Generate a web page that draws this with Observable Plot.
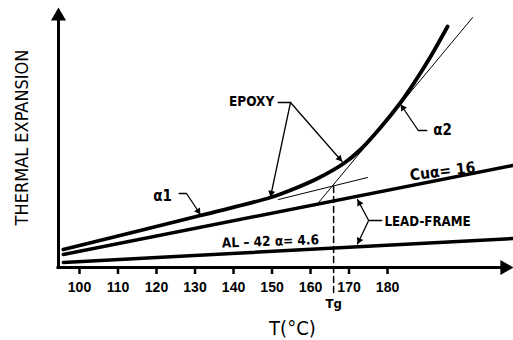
<!DOCTYPE html>
<html><head><meta charset="utf-8">
<script src="https://cdn.jsdelivr.net/npm/d3@7"></script>
<script src="https://cdn.jsdelivr.net/npm/@observablehq/plot@0.6"></script>
<style>body{margin:0;background:#fff}#chart svg{display:block}</style>
</head><body><div id="chart"></div>
<script>
// ---- data (temperature °C, thermal expansion in arbitrary units) ----
const epoxyT = [95.8, 131.4, 149.6, 155.6, 161.8, 168.6, 173, 178.2, 183.4, 187.3, 191.2, 195.6];
const epoxyE = [18, 52, 70, 78.5, 89, 104, 118, 140, 165, 187, 211, 241];
const cuT = [95.8, 212.5];
const cuE = [13, 102];
const alT = [95.8, 212.5];
const alE = [5, 29];
const tangent1T = [151.7, 174.8];
const tangent1E = [68, 90];
const tangent2T = [162.1, 202.1];
const tangent2E = [65, 250];
const tgT = 166;
const tgE = [81, -26];
const xTicks = [100, 110, 120, 130, 140, 150, 160, 170, 180];
const yTitle = "THERMAL EXPANSION";
const xTitle = "T(°C)";
const tgLabel = "Tg";
const labels = ["EPOXY", "α1", "α2", "Cuα= 16", "LEAD-FRAME", "AL – 42 α= 4.6"];

// ---- scales ----
const X = {domain: [94.545, 212.2], range: [58, 511]};
const Y = {domain: [0, 259], range: [267, 8]};
const xs = d3.scaleLinear(X.domain, X.range);
const ys = d3.scaleLinear(Y.domain, Y.range);

const toPts = (T, E) => T.map((t, i) => ({T: t, E: E[i]}));
const epoxy = toPts(epoxyT, epoxyE);
const cu = toPts(cuT, cuE);
const al = toPts(alT, alE);
const tan1 = toPts(tangent1T, tangent1E);
const tan2 = toPts(tangent2T, tangent2E);
const tgLine = tgE.map(e => ({T: tgT, E: e}));

// leaders (annotation anchors in data units)
const leaders = [
  {id: "epoxy-h", pts: [[151.6, 165], [154.8, 165]]},
  {id: "epoxy-a", pts: [[154.8, 165], [149.6, 70.5]], head: true},
  {id: "epoxy-b", pts: [[154.8, 165], [168.2, 106]], head: true},
  {id: "a1", pts: [[125.9, 74], [127.8, 74], [131.4, 53]], head: true},
  {id: "a2", pts: [[190.2, 137], [188.0, 137], [183.4, 163]], head: true},
  {id: "lf-h", pts: [[178.5, 47], [175.1, 47]]},
  {id: "lf-a", pts: [[175.1, 47], [172.2, 68]], head: true},
  {id: "lf-b", pts: [[175.1, 47], [172.2, 23.5]], head: true}
];
const leaderPts = leaders.flatMap(l => l.pts.map(([t, e]) => ({id: l.id, T: t, E: e})));

function headAt(fromT, fromE, tipT, tipE, r) {
  const dx = xs(tipT) - xs(fromT), dy = ys(tipE) - ys(fromE);
  const len = Math.hypot(dx, dy);
  const ux = dx / len, uy = dy / len;
  const hy = Math.sqrt(Math.PI * r * r / (3 * Math.sqrt(3)));
  const cx = xs(tipT) - ux * 2 * hy, cy = ys(tipE) - uy * 2 * hy;
  return {T: xs.invert(cx), E: ys.invert(cy), angle: Math.atan2(dx, -dy) * 180 / Math.PI};
}
const smallR = 2.6;
const leaderHeads = leaders.filter(l => l.head).map(l => {
  const p = l.pts;
  const a = p[p.length - 2], b = p[p.length - 1];
  return headAt(a[0], a[1], b[0], b[1], smallR);
});
const bigR = 5.6;
const axisHeads = [
  headAt(X.domain[0], 0, X.domain[0], 260, bigR),
  headAt(X.domain[0], 0, 212.7, 0, bigR)
];

const narrow = "'DejaVu Sans Condensed','Liberation Sans Narrow','Liberation Sans',Arial,sans-serif";
const regular = "'Liberation Sans',Arial,sans-serif";

const texts = [
  {text: labels[0], T: 144.7, E: 166, size: 13.5, rot: 0},
  {text: labels[1], T: 121.6, E: 71, size: 15, rot: 0},
  {text: labels[2], T: 194.3, E: 137, size: 15, rot: 0},
  {text: labels[3], T: 194.3, E: 96, size: 15.5, rot: -7},
  {text: labels[4], T: 190.4, E: 46, size: 13.2, rot: 0},
  {text: labels[5], T: 149.6, E: 26, size: 13.5, rot: -2}
];

const chart = Plot.plot({
  width: 513,
  height: 340,
  x: {...X, axis: null},
  y: {...Y, axis: null},
  style: {background: "#fff", color: "#000"},
  marks: [
    // axes
    Plot.ruleX([X.domain[0]], {y1: -1.5, y2: axisHeads[0].E, stroke: "#000", strokeWidth: 3}),
    Plot.ruleY([0], {x1: X.domain[0] - 0.4, x2: axisHeads[1].T, stroke: "#000", strokeWidth: 3}),
    Plot.dot(axisHeads, {x: "T", y: "E", symbol: "triangle", r: bigR, rotate: "angle", fill: "#000", stroke: null}),
    Plot.ruleX(xTicks, {y1: 0, y2: -7, stroke: "#000", strokeWidth: 2.5}),
    Plot.text(xTicks, {x: d => d, y: -20, text: d => String(d), fontSize: 14, fontWeight: "bold", fontFamily: regular, fill: "#000"}),
    // Tg
    Plot.line(tgLine, {x: "T", y: "E", stroke: "#000", strokeWidth: 1.5, strokeDasharray: "6,4"}),
    Plot.text([tgLabel], {x: tgT, y: -36, text: d => d, fontSize: 13, fontWeight: "bold", fontFamily: narrow, fill: "#000"}),
    // tangents
    Plot.line(tan1, {x: "T", y: "E", stroke: "#000", strokeWidth: 1}),
    Plot.line(tan2, {x: "T", y: "E", stroke: "#000", strokeWidth: 1}),
    // series
    Plot.line(al, {x: "T", y: "E", stroke: "#000", strokeWidth: 3.5}),
    Plot.line(cu, {x: "T", y: "E", stroke: "#000", strokeWidth: 3.5}),
    Plot.line(epoxy, {x: "T", y: "E", stroke: "#000", strokeWidth: 3.8, curve: "catmull-rom"}),
    // leaders
    Plot.line(leaderPts, {x: "T", y: "E", z: "id", stroke: "#000", strokeWidth: 1.3}),
    Plot.dot(leaderHeads, {x: "T", y: "E", symbol: "triangle", r: smallR, rotate: "angle", fill: "#000", stroke: null}),
    // labels
    ...texts.map(t => Plot.text([t], {x: "T", y: "E", text: "text", fontSize: t.size, rotate: t.rot, fontWeight: "bold", fontFamily: narrow, fill: "#000"})),
    Plot.text([yTitle], {x: 85.2, y: 130, text: d => d, rotate: -90, fontSize: 18, fontFamily: narrow, fill: "#000"}),
    Plot.text([xTitle], {x: 155.3, y: -61, text: d => d, fontSize: 20, fontFamily: narrow, fill: "#000"})
  ]
});
document.getElementById("chart").appendChild(chart);
</script>
</body></html>
